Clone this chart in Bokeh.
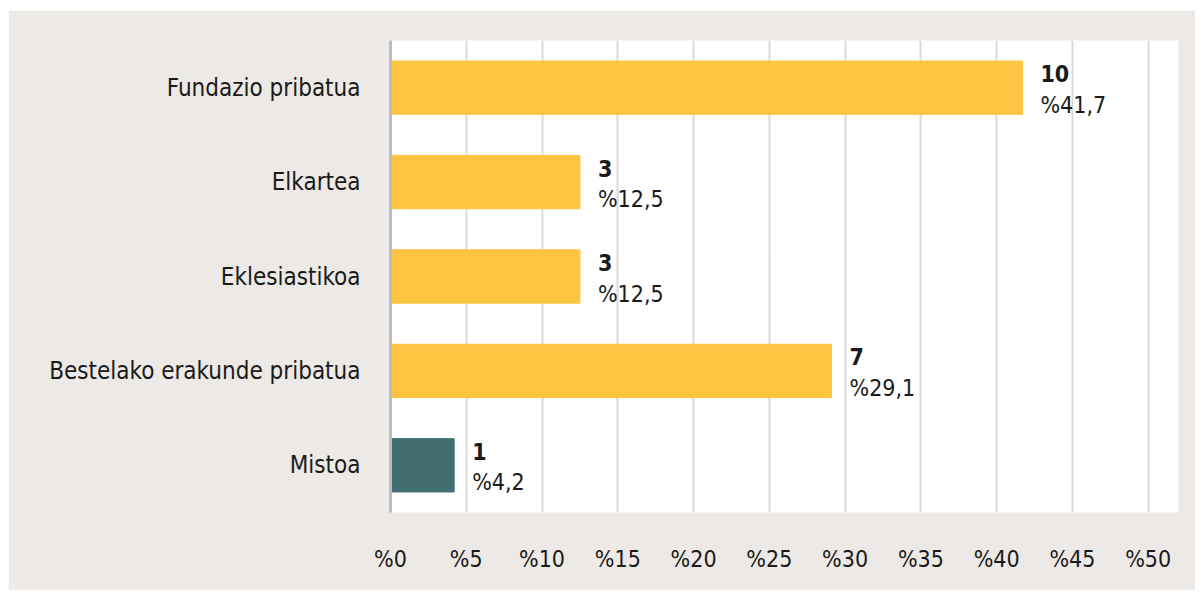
from bokeh.plotting import figure
from bokeh.models import ColumnDataSource, FixedTicker, Range1d
from bokeh.core.properties import value
from bokeh.embed import file_html
from bokeh.resources import INLINE

categories = ["Fundazio pribatua", "Elkartea", "Eklesiastikoa", "Bestelako erakunde pribatua", "Mistoa"]
percents = [41.7, 12.5, 12.5, 29.1, 4.2]
counts = [10, 3, 3, 7, 1]
pct_labels = ["%41,7", "%12,5", "%12,5", "%29,1", "%4,2"]
colors = ["#FCC440", "#FCC440", "#FCC440", "#FCC440", "#436F73"]
ticks = [0, 5, 10, 15, 20, 25, 30, 35, 40, 45, 50]
tick_labels = ["%" + str(t) for t in ticks]

FONT = "DejaVu Sans Condensed"
BG = "#ECE9E6"

src = ColumnDataSource(dict(cat=categories, pct=percents, cnt=[str(c) for c in counts],
                            pl=pct_labels, color=colors))

p = figure(width=1187, height=580, y_range=list(reversed(categories)),
           x_range=Range1d(0, 52), output_backend="svg", toolbar_location=None,
           min_border_left=382, min_border_right=17, min_border_top=30, min_border_bottom=78)
p.margin = (10, 0, 0, 8)
p.background_fill_alpha = 0
p.border_fill_color = BG
p.outline_line_color = None
p.y_range.range_padding = 0

p.hbar(y="cat", right="pct", left=0, height=0.565, color="color", source=src)

p.text(x="pct", y="cat", text="cnt", source=src, x_offset=18, y_offset=-14,
       text_font=value(FONT), text_font_style="bold", text_font_size="23px",
       text_color="#1a1a1a", text_baseline="middle", text_align="left")
p.text(x="pct", y="cat", text="pl", source=src, x_offset=18, y_offset=17,
       text_font=value(FONT), text_font_size="23px",
       text_color="#1a1a1a", text_baseline="middle", text_align="left")

p.xaxis.ticker = FixedTicker(ticks=ticks)
p.xaxis.major_label_overrides = {t: l for t, l in zip(ticks, tick_labels)}
p.xaxis.axis_line_color = None
p.xaxis.major_tick_line_color = None
p.xaxis.minor_tick_line_color = None
p.xaxis.major_label_standoff = 27
p.xaxis.major_label_text_font = FONT
p.xaxis.major_label_text_font_size = "23px"
p.xaxis.major_label_text_color = "#1a1a1a"

p.yaxis.axis_line_color = "#BDBDBD"
p.yaxis.axis_line_width = 3
p.yaxis.major_tick_line_color = None
p.yaxis.minor_tick_line_color = None
p.yaxis.major_label_standoff = 24
p.yaxis.major_label_text_font = FONT
p.yaxis.major_label_text_font_size = "24px"
p.yaxis.major_label_text_color = "#1a1a1a"

p.xgrid.grid_line_color = "#DCDAD7"
p.xgrid.grid_line_width = 2
p.ygrid.grid_line_color = None

open("out.html", "w").write(file_html(p, INLINE))
